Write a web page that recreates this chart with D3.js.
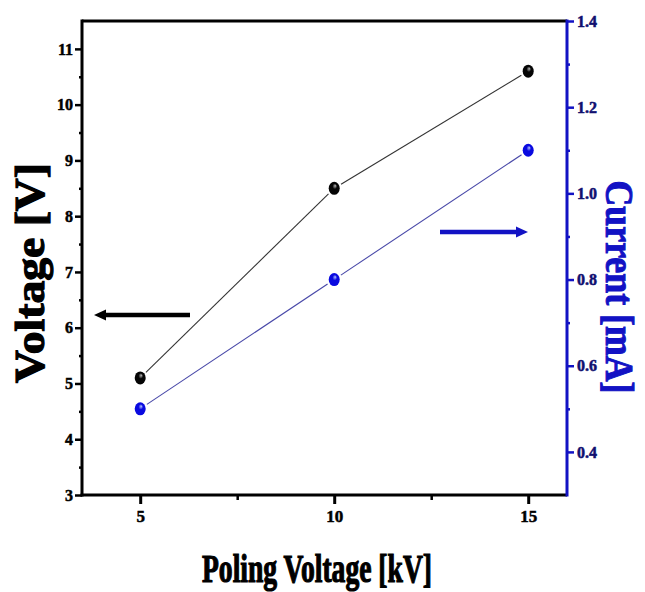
<!DOCTYPE html>
<html>
<head>
<meta charset="utf-8">
<script src="https://cdn.jsdelivr.net/npm/d3@7"></script>
<style>
  html, body { margin: 0; padding: 0; background: #fff; }
  svg { display: block; }
  text { font-family: "Liberation Serif", "Times New Roman", serif; font-weight: bold; }
</style>
</head>
<body>
<svg id="chart" width="645" height="592"></svg>
<script>
// ---- data ----
const polingVoltage = [5, 10, 15];          // kV
const voltageValues = [5.1, 8.5, 10.6];     // V (left axis)
const currentValues = [0.5, 0.8, 1.1];      // mA (right axis)

const xTicks = [5, 10, 15];
const xMinorTicks = [7.5, 12.5];
const yLeftTicks = [3, 4, 5, 6, 7, 8, 9, 10, 11];
const yLeftMinor = [3.5, 4.5, 5.5, 6.5, 7.5, 8.5, 9.5, 10.5];
const yRightTicks = [0.4, 0.6, 0.8, 1.0, 1.2, 1.4];
const yRightMinor = [0.5, 0.7, 0.9, 1.1, 1.3];

const xTitle = "Poling Voltage [kV]";
const yLeftTitle = "Voltage [V]";
const yRightTitle = "Current [mA]";

const BLUE = "#1212c4";

// ---- layout ----
const svg = d3.select("#chart");
const L = 82, R = 567, T = 21, B = 495;

const x = d3.scaleLinear().domain([3.5, 16]).range([L, R]);
const yL = d3.scaleLinear().domain([3, 11.5]).range([B, T]);
const yR = d3.scaleLinear().domain([0.3, 1.4]).range([B, T]);

// gradients for shiny markers
const defs = svg.append("defs");
function grad(id, base, hi) {
  const g = defs.append("radialGradient").attr("id", id)
    .attr("cx", "0.45").attr("cy", "0.45").attr("r", "0.6").attr("fx", "0.6").attr("fy", "0.3");
  g.append("stop").attr("offset", "0").attr("stop-color", hi);
  g.append("stop").attr("offset", "0.35").attr("stop-color", base);
  g.append("stop").attr("offset", "1").attr("stop-color", base);
}
grad("gBlack", "#050505", "#bbbbbb");
grad("gBlue", "#0a0ae0", "#b8c8ff");

// ---- axes ----
const fmtR = d3.format(".1f");

// bottom
const gx = svg.append("g").attr("transform", `translate(0,${B})`)
  .call(d3.axisBottom(x).tickValues(xTicks).tickSize(9).tickPadding(6).tickFormat(d3.format("d")));
gx.select(".domain").remove();
gx.selectAll(".tick line").attr("stroke", "#000").attr("stroke-width", 3);
gx.selectAll(".tick text").attr("font-size", 17).attr("fill", "#000")
  .attr("stroke", "#000").attr("stroke-width", 0.5);
const gxm = svg.append("g").attr("transform", `translate(0,${B})`)
  .call(d3.axisBottom(x).tickValues(xMinorTicks).tickSize(5).tickFormat(""));
gxm.select(".domain").remove();
gxm.selectAll(".tick line").attr("stroke", "#000").attr("stroke-width", 2.5);

// left
const gl = svg.append("g").attr("transform", `translate(${L},0)`)
  .call(d3.axisLeft(yL).tickValues(yLeftTicks).tickSize(7).tickPadding(2).tickFormat(d3.format("d")));
gl.select(".domain").remove();
gl.selectAll(".tick line").attr("stroke", "#000").attr("stroke-width", 2.5);
gl.selectAll(".tick text").attr("font-size", 16).attr("fill", "#000")
  .attr("stroke", "#000").attr("stroke-width", 0.5);
const glm = svg.append("g").attr("transform", `translate(${L},0)`)
  .call(d3.axisLeft(yL).tickValues(yLeftMinor).tickSize(3).tickFormat(""));
glm.select(".domain").remove();
glm.selectAll(".tick line").attr("stroke", "#000").attr("stroke-width", 2.5);

// right
const gr = svg.append("g").attr("transform", `translate(${R},0)`)
  .call(d3.axisRight(yR).tickValues(yRightTicks).tickSize(7).tickPadding(3).tickFormat(fmtR));
gr.select(".domain").remove();
gr.selectAll(".tick line").attr("stroke", BLUE).attr("stroke-width", 2.5);
gr.selectAll(".tick text").attr("font-size", 16).attr("fill", "#101070")
  .attr("stroke", "#101070").attr("stroke-width", 0.5);
const grm = svg.append("g").attr("transform", `translate(${R},0)`)
  .call(d3.axisRight(yR).tickValues(yRightMinor).tickSize(3).tickFormat(""));
grm.select(".domain").remove();
grm.selectAll(".tick line").attr("stroke", BLUE).attr("stroke-width", 2.5);

// frame
svg.append("line").attr("x1", L).attr("x2", R).attr("y1", T).attr("y2", T).attr("stroke", "#000").attr("stroke-width", 3);
svg.append("line").attr("x1", L - 1.5).attr("x2", R).attr("y1", B).attr("y2", B).attr("stroke", "#000").attr("stroke-width", 3);
svg.append("line").attr("x1", L).attr("x2", L).attr("y1", T - 1.5).attr("y2", B + 1.5).attr("stroke", "#000").attr("stroke-width", 3);
svg.append("line").attr("x1", R).attr("x2", R).attr("y1", T - 1.5).attr("y2", B + 1.5).attr("stroke", BLUE).attr("stroke-width", 3);

// ---- series lines (with small gaps near markers) ----
function gappedSegments(xs, ys, yScale, gap) {
  const segs = [];
  for (let i = 0; i < xs.length - 1; i++) {
    const x1 = x(xs[i]), y1 = yScale(ys[i]), x2 = x(xs[i + 1]), y2 = yScale(ys[i + 1]);
    const len = Math.hypot(x2 - x1, y2 - y1), ux = (x2 - x1) / len, uy = (y2 - y1) / len;
    segs.push([x1 + ux * gap, y1 + uy * gap, x2 - ux * gap, y2 - uy * gap]);
  }
  return segs;
}
svg.append("g").selectAll("line").data(gappedSegments(polingVoltage, voltageValues, yL, 8)).join("line")
  .attr("x1", d => d[0]).attr("y1", d => d[1]).attr("x2", d => d[2]).attr("y2", d => d[3])
  .attr("stroke", "#333").attr("stroke-width", 1.1);
svg.append("g").selectAll("line").data(gappedSegments(polingVoltage, currentValues, yR, 8)).join("line")
  .attr("x1", d => d[0]).attr("y1", d => d[1]).attr("x2", d => d[2]).attr("y2", d => d[3])
  .attr("stroke", "#4848a8").attr("stroke-width", 1.1);

// markers
svg.append("g").selectAll("ellipse").data(polingVoltage).join("ellipse")
  .attr("cx", (d) => x(d)).attr("cy", (d, i) => yL(voltageValues[i]))
  .attr("rx", 5.5).attr("ry", 6.5).attr("fill", "url(#gBlack)");
svg.append("g").selectAll("ellipse").data(polingVoltage).join("ellipse")
  .attr("cx", (d) => x(d)).attr("cy", (d, i) => yR(currentValues[i]))
  .attr("rx", 5.5).attr("ry", 6.5).attr("fill", "url(#gBlue)");

// ---- arrows ----
function arrow(x1, x2, y, color) {
  const dir = Math.sign(x2 - x1);
  svg.append("line").attr("x1", x1).attr("x2", x2 - dir * 8).attr("y1", y).attr("y2", y)
    .attr("stroke", color).attr("stroke-width", 4.5);
  svg.append("path")
    .attr("d", `M${x2},${y} L${x2 - dir * 12},${y - 5.5} L${x2 - dir * 12},${y + 5.5} Z`)
    .attr("fill", color);
}
arrow(190, 94, 315, "#000");
arrow(440, 528, 232, BLUE);

// ---- titles ----
svg.append("text").attr("transform", "translate(44,273) rotate(-90)")
  .attr("text-anchor", "middle").attr("font-size", 42).attr("fill", "#000")
  .attr("stroke", "#000").attr("stroke-width", 1.2)
  .attr("textLength", 220).attr("lengthAdjust", "spacingAndGlyphs").text(yLeftTitle);
svg.append("text").attr("transform", "translate(606,287) rotate(90)")
  .attr("text-anchor", "middle").attr("font-size", 40).attr("fill", BLUE)
  .attr("stroke", BLUE).attr("stroke-width", 1)
  .attr("textLength", 213).attr("lengthAdjust", "spacingAndGlyphs").text(yRightTitle);
svg.append("text").attr("x", 317).attr("y", 582)
  .attr("text-anchor", "middle").attr("font-size", 40).attr("fill", "#000")
  .attr("stroke", "#000").attr("stroke-width", 1.2)
  .attr("textLength", 230).attr("lengthAdjust", "spacingAndGlyphs").text(xTitle);
</script>
</body>
</html>
